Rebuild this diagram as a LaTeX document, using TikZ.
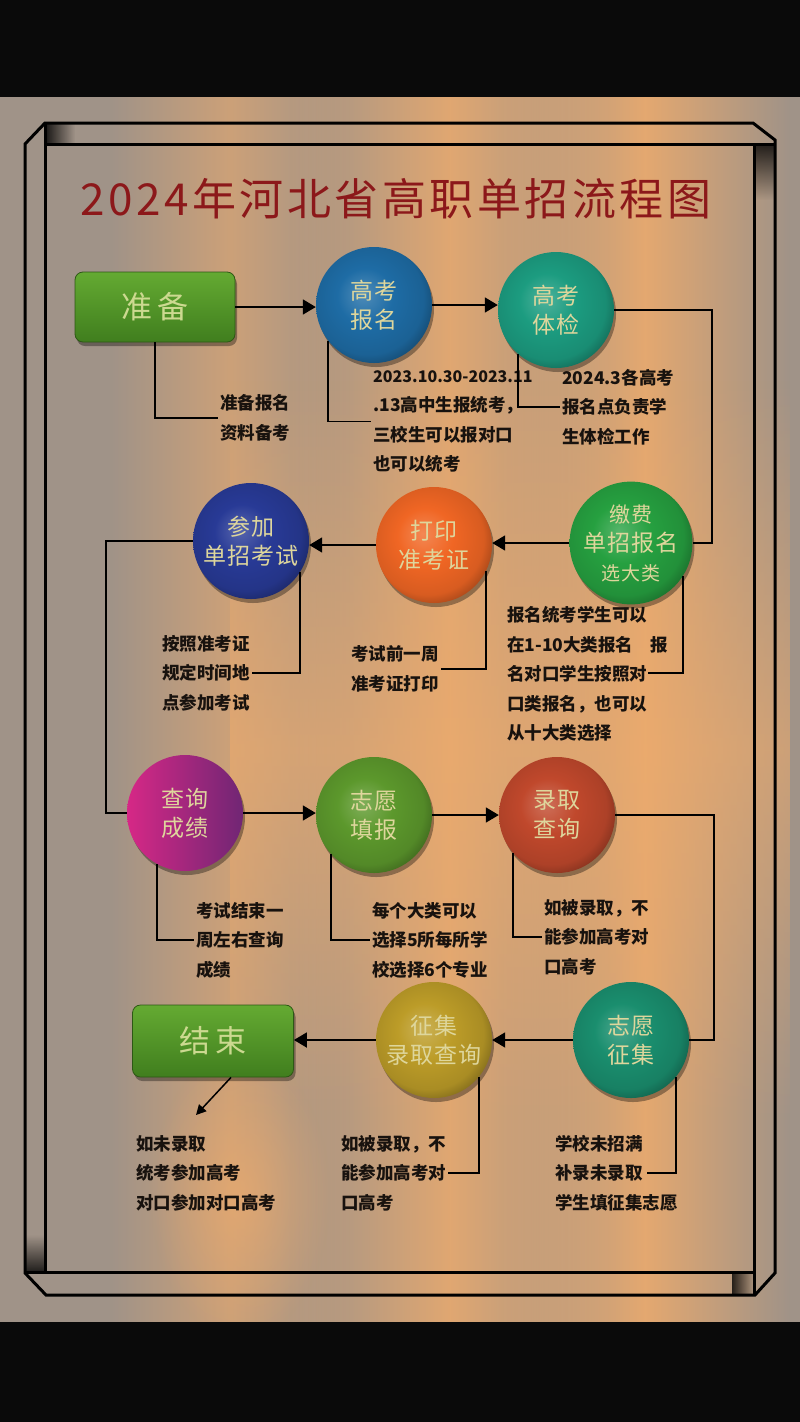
\documentclass[tikz,border=0pt]{standalone}
\usepackage{fontspec}
\newfontfamily\cjk{Noto Sans CJK SC}
\newfontfamily\cjkwide{Noto Sans CJK SC}[LetterSpace=5]
\newfontfamily\cjkbox{Noto Sans CJK SC}[LetterSpace=18]
\newfontfamily\cjktitle{Noto Sans CJK SC}[LetterSpace=8]
\usetikzlibrary{arrows.meta,shadows,fadings}

\definecolor{bggray}{RGB}{160,147,136}
\definecolor{bglight}{RGB}{240,172,108}
\definecolor{titlered}{RGB}{140,24,26}
\definecolor{labelyellow}{RGB}{222,214,156}
\definecolor{notetext}{RGB}{24,18,14}
\definecolor{boxtop}{RGB}{100,170,50}
\definecolor{boxbottom}{RGB}{64,126,30}
\definecolor{bmblue}{RGB}{30,108,165}
\definecolor{tjteal}{RGB}{28,156,128}
\definecolor{jfgreen}{RGB}{38,160,64}
\definecolor{dyorange}{RGB}{240,102,36}
\definecolor{cjblue}{RGB}{40,58,150}
\definecolor{cxpink}{RGB}{214,40,134}
\definecolor{cxpurple}{RGB}{112,38,116}
\definecolor{tbgreen}{RGB}{92,152,44}
\definecolor{lqred}{RGB}{192,72,44}
\definecolor{zjteal}{RGB}{26,142,110}
\definecolor{zlgold}{RGB}{188,156,40}
\colorlet{discbase}{gray}

\pgfdeclareradialshading[discbase]{disc}{\pgfpoint{-5bp}{5bp}}{color(0bp)=(discbase!78!white); color(12bp)=(discbase); color(24bp)=(discbase!90!black); color(31bp)=(discbase!62!black); color(50bp)=(discbase!62!black)}

\tikzfading[name=fadeLR, left color=transparent!100, right color=transparent!100, middle color=transparent!0]
\tikzfading[name=fadeTB, top color=transparent!100, bottom color=transparent!100, middle color=transparent!0]
\tikzfading[name=fadeR, left color=transparent!0, right color=transparent!100]
\tikzfading[name=fadeU, top color=transparent!100, bottom color=transparent!0]
\tikzfading[name=fadeD, top color=transparent!0, bottom color=transparent!100]
\tikzfading[name=fadeSoft, inner color=transparent!0, outer color=transparent!100]

\begin{document}
\begin{tikzpicture}[x=1pt,y=-1pt,
    frame/.style={line width=3pt,line join=miter},
    flow/.style={line width=1.8pt,-{Triangle[length=13pt,width=15pt]}},
    link/.style={line width=1.8pt},
    stage/.style={circle,minimum size=116pt,inner sep=0pt,/utils/exec={\colorlet{discbase}{#1}},shade,shading=disc,
      drop shadow={shadow xshift=2pt,shadow yshift=-4pt,opacity=.35,fill=black},
      text=labelyellow,align=center,font=\cjkwide\fontsize{23}{29}\selectfont},
    endbox/.style={rectangle,rounded corners=8pt,minimum width=160pt,minimum height=70pt,
      top color=boxtop,bottom color=boxbottom,draw=boxbottom!70!black,line width=.8pt,
      drop shadow={shadow xshift=2pt,shadow yshift=-4pt,opacity=.35,fill=black},
      text=labelyellow!92!green,font=\cjkbox\fontsize{31}{36}\selectfont},
    note/.style={anchor=west,align=left,inner sep=2pt,text=notetext,font=\cjk\bfseries\fontsize{17.5}{29.5}\selectfont}]
  \useasboundingbox (0,0) rectangle (800,1422);
  \fill[bggray] (0,97) rectangle (800,1322);
  \fill[bglight,path fading=fadeLR,opacity=.55] (110,97) rectangle (350,1322);
  \fill[bglight,path fading=fadeLR,opacity=.8] (290,97) rectangle (610,1322);
  \fill[bglight,path fading=fadeLR,opacity=.85] (500,97) rectangle (790,1322);
  \fill[bglight,path fading=fadeTB,opacity=.55] (230,380) rectangle (790,1120);
  \fill[bglight,path fading=fadeSoft,opacity=.6] (150,1050) rectangle (330,1340);
  \fill[black!96] (0,0) rectangle (800,97);
  \fill[black!96] (0,1322) rectangle (800,1422);

  \fill[black,path fading=fadeR,opacity=.85] (45,123) rectangle (75,144);
  \fill[black,path fading=fadeD,opacity=.8] (754,144) rectangle (775,200);
  \fill[black,path fading=fadeU,opacity=.8] (25,1235) rectangle (45,1272);
  \fill[black,path fading=fadeR,opacity=.8,xscale=-1] (-754,1272) rectangle (-732,1295);
  \draw[frame] (45,123) -- (753,123) -- (775,140) -- (775,1273) -- (755,1295) -- (46,1295) -- (25,1273) -- (25,144) -- cycle;
  \draw[frame] (45,123) -- (45,1272) (45,144) -- (775,144) (754,144) -- (754,1295) (25,1272) -- (754,1272);

  \node[text=titlered,font=\cjktitle\fontsize{44}{50}\selectfont] (title) at (396,199) {2024年河北省高职单招流程图};

  \node[endbox] (zb) at (155,307) {准备};
  \node[stage=bmblue] (bm) at (374,305) {高考\\报名};
  \node[stage=tjteal] (tj) at (556,310) {高考\\体检};
  \node[stage=jfgreen] (jf) at (631,543) {{\fontsize{21}{29}\selectfont 缴费}\\单招报名\\{\fontsize{19}{27}\selectfont 选大类}};
  \node[stage=dyorange] (dy) at (434,545) {打印\\准考证};
  \node[stage=cjblue] (cj) at (251,541) {参加\\单招考试};
  \node[stage=cxpink,left color=cxpink,right color=cxpurple] (cx) at (185,813) {查询\\成绩};
  \node[stage=tbgreen] (tb) at (374,815) {志愿\\填报};
  \node[stage=lqred] (lq) at (557,815) {录取\\查询};
  \node[stage=zjteal] (zj) at (631,1040) {志愿\\征集};
  \node[stage=zlgold] (zl) at (434,1040) {征集\\录取查询};
  \node[endbox,minimum width=161pt,minimum height=72pt] (js) at (213,1041) {结束};

  \draw[flow] (zb.east) -- (zb.east -| bm.west);
  \draw[flow] (bm.east) -- (bm.east -| tj.west);
  \draw[flow] (jf.west) -- (jf.west -| dy.east);
  \draw[flow] (dy.west) -- (dy.west -| cj.east);
  \draw[flow] (cx.east) -- (cx.east -| tb.west);
  \draw[flow] (tb.east) -- (tb.east -| lq.west);
  \draw[flow] (zj.west) -- (zj.west -| zl.east);
  \draw[flow] (zl.west) -- (zl.west -| js.east);

  \coordinate (rturnA) at (712,543);
  \coordinate (lturn) at (106,541);
  \coordinate (rturnB) at (714,815);
  \draw[link] (tj.east) -| (rturnA) -- (jf.east);
  \draw[link] (cj.west) -- (lturn) |- (cx.west);
  \draw[link] (lq.east) -- (rturnB) |- (zj.east);

  \node[note] (zbnote) at (218,418) {准备报名\\资料备考};
  \node[note] (bmnote) at (371,421.5) {{\fontsize{16}{29.5}\selectfont 2023.10.30-2023.11}\\.13高中生报统考，\\三校生可以报对口\\也可以统考};
  \node[note] (tjnote) at (560,407) {2024.3各高考\\报名点负责学\\生体检工作};
  \node[note] (jfnote) at (505,674) {报名统考学生可以\\在1-10大类报名\quad 报\\名对口学生按照对\\口类报名，也可以\\从十大类选择};
  \node[note] (dynote) at (349,669) {考试前一周\\准考证打印};
  \node[note] (cjnote) at (160,673) {按照准考证\\规定时间地\\点参加考试};
  \node[note] (cxnote) at (194,940) {考试结束一\\周左右查询\\成绩};
  \node[note] (tbnote) at (370,940) {每个大类可以\\选择5所每所学\\校选择6个专业};
  \node[note] (lqnote) at (542,937) {如被录取，不\\能参加高考对\\口高考};
  \node[note] (jsnote) at (134,1173) {如未录取\\统考参加高考\\对口参加对口高考};
  \node[note] (zlnote) at (339,1173) {如被录取，不\\能参加高考对\\口高考};
  \node[note] (zjnote) at (553,1173) {学校未招满\\补录未录取\\学生填征集志愿};

  \coordinate (jfend) at (648,673);
  \coordinate (zjend) at (647,1173);
  \coordinate (jstip) at (196,1115);
  \draw[link] (zb.south) |- (zbnote.west);
  \draw[link] (bm.-142) |- (bmnote.west);
  \draw[link] (tj.-131) |- (tjnote.west);
  \draw[link] (jf.-32) |- (jfend);
  \draw[link] (dy.-26) |- (dynote.east);
  \draw[link] (cj.-32) |- (cjnote.east);
  \draw[link] (cx.-119) |- (cxnote.west);
  \draw[link] (tb.-138) |- (tbnote.west);
  \draw[link] (lq.-139) |- (lqnote.west);
  \draw[link] (zl.-39) |- (zlnote.east);
  \draw[link] (zj.-39) |- (zjend);
  \draw[line width=1.5pt,-{Triangle[length=10pt,width=10pt]}] ([xshift=18pt]js.south) -- (jstip);
\end{tikzpicture}
\end{document}
